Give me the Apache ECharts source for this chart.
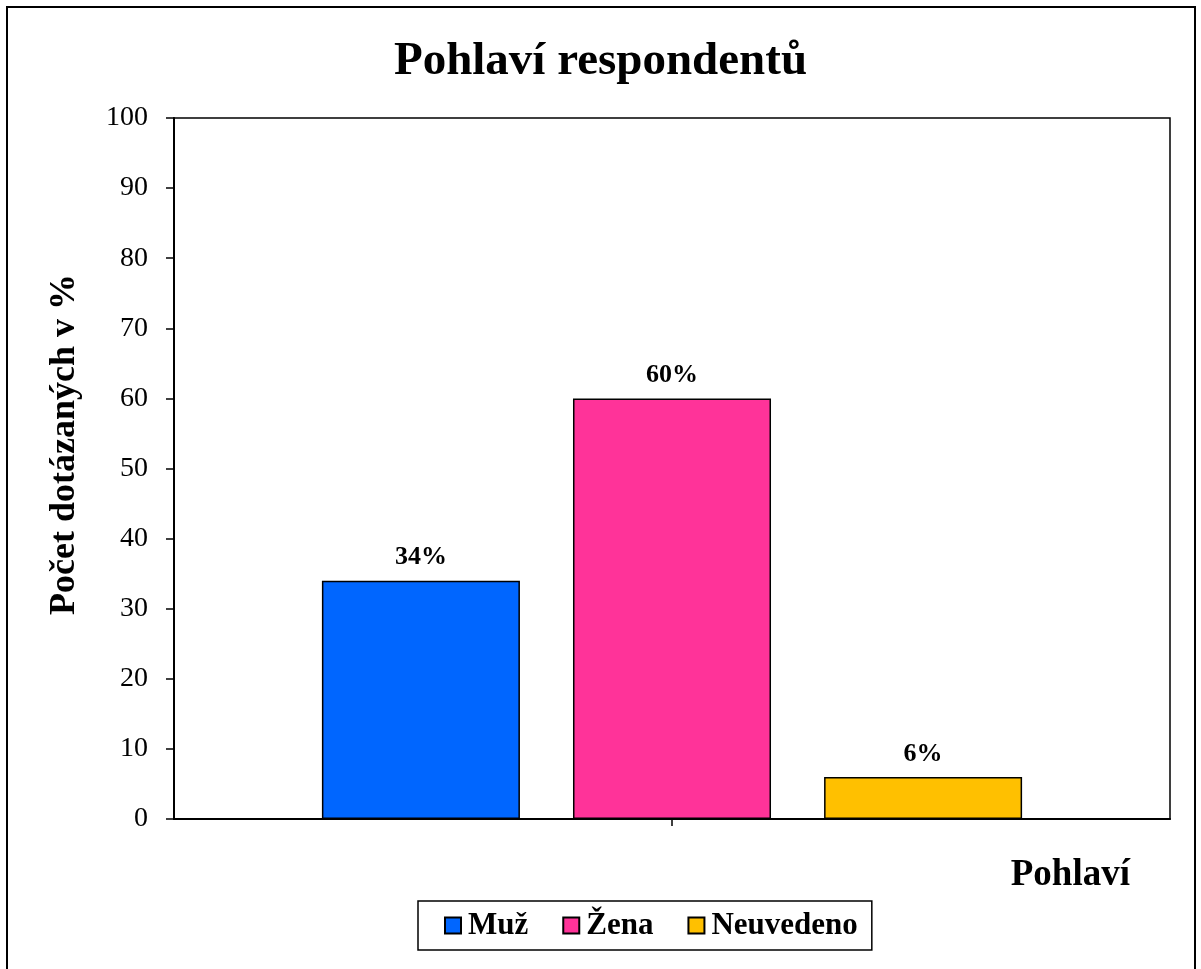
<!DOCTYPE html>
<html>
<head>
<meta charset="utf-8">
<script src="https://cdn.jsdelivr.net/npm/echarts@6/dist/echarts.min.js"></script>
<style>
html,body{margin:0;padding:0;background:#fff;}
#chart{width:1201px;height:969px;}
</style>
</head>
<body>
<div id="chart"></div>
<script>
const titleText = 'Pohlaví respondentů';
const categories = ['Pohlaví'];
const seriesNames = ['Muž', 'Žena', 'Neuvedeno'];
const seriesValues = [[34], [60], [6]];
const seriesColors = ['#0066FF', '#FF3399', '#FFC000'];
const yTicks = [0, 10, 20, 30, 40, 50, 60, 70, 80, 90, 100];
const yAxisName = 'Počet dotázaných v %';
const xAxisName = 'Pohlaví';

const FONT = "'Liberation Serif', 'Times New Roman', serif";
const chart = echarts.init(document.getElementById('chart'), null, {renderer: 'canvas'});

const option = {
  backgroundColor: '#ffffff',
  animation: false,
  textStyle: {fontFamily: FONT, color: '#000'},
  title: {
    text: titleText,
    left: 'center',
    top: 33,
    textStyle: {fontFamily: FONT, fontSize: 47, fontWeight: 'bold', color: '#000'}
  },
  graphic: [{
    type: 'rect',
    shape: {x: 7, y: 7, width: 1188, height: 1000},
    style: {fill: null, stroke: '#000', lineWidth: 2},
    silent: true, z: 100
  }],
  legend: {
    data: seriesNames,
    left: 418,
    top: 901,
    orient: 'horizontal',
    padding: [9, 14, 9, 26],
    borderColor: '#000',
    borderWidth: 1.5,
    itemWidth: 16,
    itemHeight: 16,
    itemGap: 34,
    icon: 'rect',
    textStyle: {fontFamily: FONT, fontSize: 31, fontWeight: 'bold', color: '#000', padding: [0, 0, 0, 2]}
  },
  grid: {
    left: 174, top: 118, right: 31, bottom: 150,
    show: true, borderColor: '#000', borderWidth: 1.5, backgroundColor: 'transparent'
  },
  xAxis: {
    type: 'category',
    data: categories,
    boundaryGap: true,
    axisLine: {show: true, lineStyle: {color: '#000', width: 2}},
    axisTick: {show: true, alignWithLabel: true, length: 7, lineStyle: {color: '#000', width: 1.5}},
    axisLabel: {show: false},
    name: xAxisName,
    nameLocation: 'end',
    nameGap: -40,
    nameTextStyle: {fontFamily: FONT, fontSize: 37, fontWeight: 'bold', color: '#000', align: 'right', verticalAlign: 'top', padding: [38, 0, 0, 0]}
  },
  yAxis: {
    type: 'value',
    min: yTicks[0],
    max: yTicks[yTicks.length - 1],
    interval: yTicks[1] - yTicks[0],
    splitLine: {show: false},
    axisLine: {show: true, lineStyle: {color: '#000', width: 2}},
    axisTick: {show: true, inside: false, length: 8, lineStyle: {color: '#000', width: 1.5}},
    axisLabel: {fontFamily: FONT, fontSize: 28, color: '#000', margin: 26},
    name: yAxisName,
    nameLocation: 'middle',
    nameGap: 91,
    nameRotate: 90,
    nameTextStyle: {fontFamily: FONT, fontSize: 36, fontWeight: 'bold', color: '#000', padding: [0, 0, 0, 48]}
  },
  series: seriesNames.map((name, i) => ({
    name: name,
    type: 'bar',
    data: seriesValues[i],
    barGap: '26.8%',
    barCategoryGap: '29.7%',
    itemStyle: {color: seriesColors[i], borderColor: '#000', borderWidth: 1.5},
    label: {
      show: true,
      position: 'top',
      distance: 10,
      formatter: p => p.value + '%',
      fontFamily: FONT, fontSize: 26, fontWeight: 'bold', color: '#000'
    }
  }))
};
chart.setOption(option);
</script>
</body>
</html>
